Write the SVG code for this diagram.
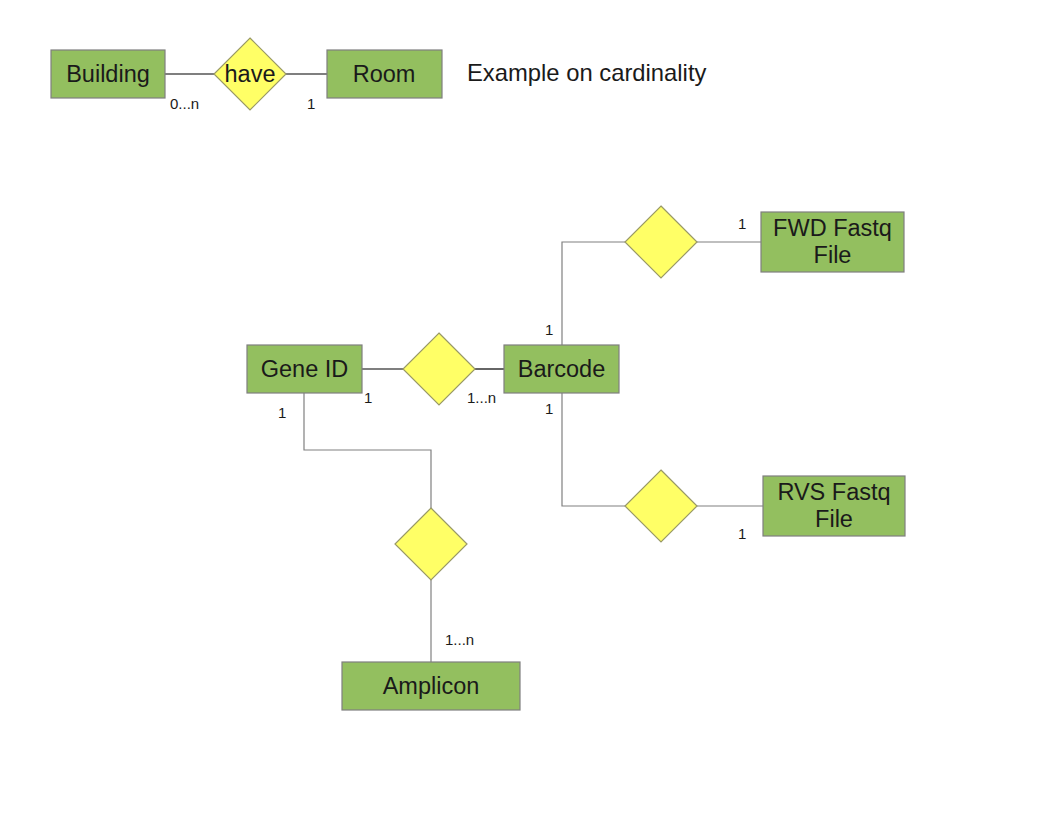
<svg xmlns="http://www.w3.org/2000/svg" width="1056" height="816" viewBox="0 0 1056 816">
<style>
.ent{fill:#93bf5f;stroke:#7f7f7f;stroke-width:1.2}
.rel{fill:#ffff66;stroke:#999966;stroke-width:1.2}
.lbl{font-family:"Liberation Sans",Arial,sans-serif;font-size:23.5px;fill:#1a1a1a;text-anchor:middle}
.card{font-family:"Liberation Sans",Arial,sans-serif;font-size:15px;fill:#1a1a1a}
.blk{fill:none;stroke:#000;stroke-width:1.2}
.gry{fill:none;stroke:#808080;stroke-width:1.2}
</style>
<rect width="1056" height="816" fill="#fff"/>
<g id="connectors">
<line class="blk" x1="165" y1="74" x2="214" y2="74"/>
<line class="blk" x1="286" y1="74" x2="327" y2="74"/>
<line class="blk" x1="362" y1="369" x2="403" y2="369"/>
<line class="blk" x1="475" y1="369" x2="504" y2="369"/>
<polyline class="gry" points="562,345 562,242 625,242"/>
<line class="gry" x1="697" y1="242" x2="761" y2="242"/>
<polyline class="gry" points="562,393 562,506 625,506"/>
<line class="gry" x1="697" y1="506" x2="763" y2="506"/>
<polyline class="gry" points="304,393 304,450 431,450 431,508"/>
<line class="gry" x1="431" y1="580" x2="431" y2="662"/>
</g>
<g id="building"><rect class="ent" x="51" y="50" width="114" height="48"/><text class="lbl" x="108" y="82">Building</text></g>
<g id="have"><polygon class="rel" points="250,38 286,74 250,110 214,74"/><text class="lbl" x="250" y="82">have</text></g>
<g id="room"><rect class="ent" x="327" y="50" width="115" height="48"/><text class="lbl" x="384" y="82">Room</text></g>
<g id="example"><text font-family="Liberation Sans,Arial,sans-serif" font-size="23.8" fill="#1a1a1a" x="467" y="81">Example on cardinality</text></g>
<g id="gene-id"><rect class="ent" x="247" y="345" width="115" height="48"/><text class="lbl" x="304.5" y="377">Gene ID</text></g>
<g id="rel-gene-barcode"><polygon class="rel" points="439,333 475,369 439,405 403,369"/></g>
<g id="barcode"><rect class="ent" x="504" y="345" width="115" height="48"/><text class="lbl" x="561.5" y="377">Barcode</text></g>
<g id="rel-fwd"><polygon class="rel" points="661,206 697,242 661,278 625,242"/></g>
<g id="fwd"><rect class="ent" x="761" y="212" width="143" height="60"/><text class="lbl" x="832.5" y="236">FWD Fastq</text><text class="lbl" x="832.5" y="263">File</text></g>
<g id="rel-rvs"><polygon class="rel" points="661,470 697,506 661,542 625,506"/></g>
<g id="rvs"><rect class="ent" x="763" y="476" width="142" height="60"/><text class="lbl" x="834" y="500">RVS Fastq</text><text class="lbl" x="834" y="527">File</text></g>
<g id="rel-amplicon"><polygon class="rel" points="431,508 467,544 431,580 395,544"/></g>
<g id="amplicon"><rect class="ent" x="342" y="662" width="178" height="48"/><text class="lbl" x="431" y="694">Amplicon</text></g>
<g id="cardinalities">
<text class="card" x="170" y="109">0...n</text>
<text class="card" x="307" y="109">1</text>
<text class="card" x="364" y="403">1</text>
<text class="card" x="467" y="403">1...n</text>
<text class="card" x="545" y="335">1</text>
<text class="card" x="545" y="414">1</text>
<text class="card" x="278" y="418">1</text>
<text class="card" x="738" y="229">1</text>
<text class="card" x="738" y="539">1</text>
<text class="card" x="445" y="645">1...n</text>
</g>
</svg>
